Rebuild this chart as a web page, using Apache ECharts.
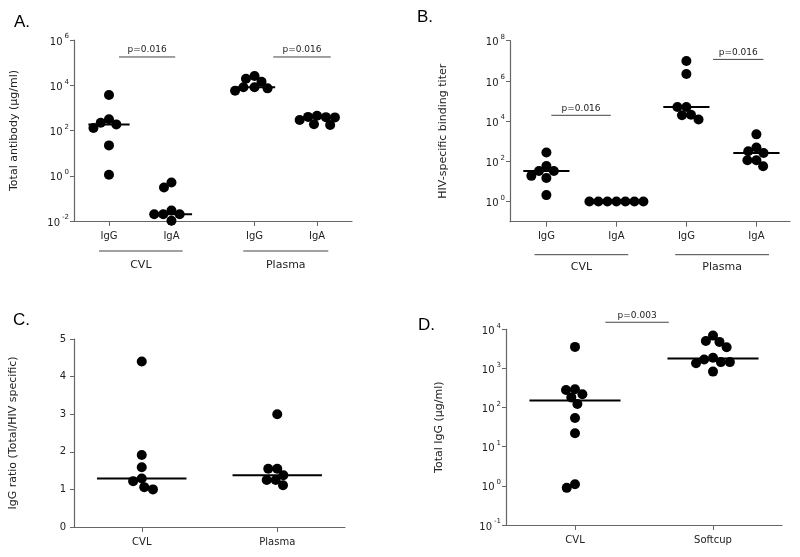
<!DOCTYPE html>
<html><head><meta charset="utf-8">
<script src="https://cdn.jsdelivr.net/npm/echarts@6/dist/echarts.min.js"></script>
<style>html,body{margin:0;padding:0;background:#fff}#c{width:800px;height:557px}</style>
</head><body><div id="c"></div>
<script>
// ---------- DATA ----------
const A_categories = ['IgG', 'IgA', 'IgG', 'IgA'];
const A_groupNames = ['CVL', 'Plasma'];
const A_cvl_IgG = [3700, 220, 128, 186, 316, 22, 1.1];
const A_cvl_IgA = [0.5, 0.3, 0.029, 0.02, 0.02, 0.02, 0.0103];
const A_plasma_IgG = [14400, 25700, 19500, 8100, 5750, 7300, 8100];
const A_plasma_IgA = [450, 400, 290, 174, 190, 380, 390];
const A_pvalues = ['p=0.016', 'p=0.016'];
const A_yTickExponents = [-2, 0, 2, 4, 6];

const B_categories = ['IgG', 'IgA', 'IgG', 'IgA'];
const B_groupNames = ['CVL', 'Plasma'];
const B_cvl_IgG = [275, 33, 59, 33, 19, 15, 2.1];
const B_cvl_IgA = [1, 1, 1, 1, 1, 1, 1];
const B_plasma_IgG = [9.8e6, 2.2e6, 51000, 51000, 21000, 19700, 12000];
const B_plasma_IgA = [2200, 316, 490, 263, 113, 113, 57];
const B_pvalues = ['p=0.016', 'p=0.016'];
const B_yTickExponents = [0, 2, 4, 6, 8];

const C_categories = ['CVL', 'Plasma'];
const C_cvl = [4.40, 1.915, 1.59, 1.29, 1.22, 1.06, 1.0];
const C_plasma = [3.0, 1.55, 1.55, 1.375, 1.25, 1.25, 1.11];
const C_yTicks = [0, 1, 2, 3, 4, 5];

const D_categories = ['CVL', 'Softcup'];
const D_cvl = [3550, 282, 295, 182, 218, 123, 54, 22, 0.89, 1.1];
const D_softcup = [5000, 3470, 4770, 6900, 1450, 1870, 1350, 1700, 1450, 830];
const D_pvalues = ['p=0.003'];
const D_yTickExponents = [-1, 0, 1, 2, 3, 4];

// ---------- LAYOUT / STYLE ----------
const FONT = '"DejaVu Sans", "Liberation Sans", Arial, sans-serif';
const AXIS = '#666';
const TXT = '#222';
const DOT = 10, SWARM_D = 9, HALF = 0.33;

const panels = [
  { letter: 'A.', letterPos: [14, 24], grid: { left: 74, top: 40, width: 278, height: 181 },
    xMin: 0.44, xMax: 4.89, pos: [1, 2, 3.33, 4.33], cats: A_categories,
    yMin: -2, yMax: 6, ticks: A_yTickExponents, log: true,
    name: 'Total antibody (µg/ml)', nameGap: 54,
    groups: [A_cvl_IgG, A_cvl_IgA, A_plasma_IgG, A_plasma_IgA],
    brackets: [{ x: [1.16, 2.06], y: 5.25, text: A_pvalues[0] }, { x: [3.63, 4.55], y: 5.25, text: A_pvalues[1] }],
    groupLines: [{ x: [0.84, 2.18], text: A_groupNames[0] }, { x: [3.15, 4.51], text: A_groupNames[1] }],
    glOff: 30, glText: 44 },
  { letter: 'B.', letterPos: [417, 19], grid: { left: 510, top: 40.7, width: 280, height: 181 },
    xMin: 0.48, xMax: 4.48, pos: [1, 2, 3, 4], cats: B_categories,
    yMin: -1, yMax: 8, ticks: B_yTickExponents, log: true,
    name: 'HIV-specific binding titer', nameGap: 61,
    groups: [B_cvl_IgG, B_cvl_IgA, B_plasma_IgG, B_plasma_IgA],
    brackets: [{ x: [1.07, 1.92], y: 4.29, text: B_pvalues[0] }, { x: [3.38, 4.10], y: 7.07, text: B_pvalues[1] }],
    groupLines: [{ x: [0.83, 2.17], text: B_groupNames[0] }, { x: [2.84, 4.18], text: B_groupNames[1] }],
    glOff: 33, glText: 45 },
  { letter: 'C.', letterPos: [13, 322], grid: { left: 74, top: 339, width: 271, height: 188 },
    xMin: 0.5, xMax: 2.5, pos: [1, 2], cats: C_categories,
    yMin: 0, yMax: 5, ticks: C_yTicks, log: false,
    name: 'IgG ratio (Total/HIV specific)', nameGap: 55,
    groups: [C_cvl, C_plasma], brackets: [], groupLines: [] },
  { letter: 'D.', letterPos: [418, 327], grid: { left: 506, top: 329.3, width: 276, height: 195.7 },
    xMin: 0.5, xMax: 2.5, pos: [1, 2], cats: D_categories,
    yMin: -1, yMax: 4, ticks: D_yTickExponents, log: true,
    name: 'Total IgG (µg/ml)', nameGap: 61,
    groups: [D_cvl, D_softcup],
    brackets: [{ x: [1.22, 1.68], y: 4.18, text: D_pvalues[0] }], groupLines: [] }
];

function median(a) {
  const s = a.slice().sort((x, y) => x - y), n = s.length;
  return n % 2 ? s[(n - 1) / 2] : (s[n / 2 - 1] + s[n / 2]) / 2;
}
const tf = (p, v) => p.log ? Math.log10(v) : v;

const chart = echarts.init(document.getElementById('c'));

function buildOption(offsets) {
  const grid = [], xAxis = [], yAxis = [], series = [];
  panels.forEach((p, i) => {
    grid.push(Object.assign({ containLabel: false }, p.grid));
    xAxis.push({
      type: 'value', gridIndex: i, min: p.xMin, max: p.xMax,
      axisLine: { show: true, onZero: false, lineStyle: { color: AXIS, width: 1.2 } },
      splitLine: { show: false },
      axisTick: { show: true, customValues: p.pos, length: 5, lineStyle: { color: AXIS, width: 1 } },
      axisLabel: { show: true, customValues: p.pos, margin: 10, fontSize: 10, fontFamily: FONT, color: TXT,
        formatter: v => { let k = 0, best = 1e9; p.pos.forEach((q, j) => { if (Math.abs(q - v) < best) { best = Math.abs(q - v); k = j; } }); return p.cats[k]; } }
    });
    yAxis.push({
      type: 'value', gridIndex: i, min: p.yMin, max: p.yMax,
      axisLine: { show: true, onZero: false, lineStyle: { color: AXIS, width: 1.2 } },
      splitLine: { show: false },
      axisTick: { show: true, customValues: p.ticks, length: 4, lineStyle: { color: AXIS, width: 1 } },
      axisLabel: { show: true, customValues: p.ticks, margin: p.log ? 5 : 8, fontSize: 10, fontFamily: FONT, color: TXT,
        formatter: v => p.log ? '{b|10}{s|' + v + '}' : String(v),
        rich: p.log ? {
          b: { fontSize: 10, fontFamily: FONT, color: TXT, lineHeight: 14, verticalAlign: 'bottom' },
          s: { fontSize: 7, fontFamily: FONT, color: TXT, lineHeight: 10, verticalAlign: 'top', padding: [0, 0, 0, 2] }
        } : undefined },
      name: p.name, nameLocation: 'middle', nameRotate: 90, nameGap: p.nameGap,
      nameTextStyle: { fontSize: 11, fontFamily: FONT, color: TXT }
    });
    const pts = [];
    p.groups.forEach((vals, g) => {
      vals.forEach((v, k) => {
        const off = offsets ? offsets[i][g][k] : 0;
        pts.push([p.pos[g] + off, tf(p, v)]);
      });
      const m = tf(p, median(vals));
      series.push({ type: 'line', xAxisIndex: i, yAxisIndex: i, data: [[p.pos[g] - HALF, m], [p.pos[g] + HALF, m]],
        symbol: 'none', lineStyle: { color: '#000', width: 2 }, z: 3, silent: true, animation: false });
    });
    series.push({ type: 'scatter', xAxisIndex: i, yAxisIndex: i, data: pts, symbol: 'circle', symbolSize: DOT,
      itemStyle: { color: '#000', opacity: 1 }, z: 2, clip: false, animation: false, silent: true });
    p.brackets.forEach(b => {
      series.push({ type: 'line', xAxisIndex: i, yAxisIndex: i, data: [[b.x[0], b.y], [b.x[1], b.y]],
        symbol: 'none', clip: false, lineStyle: { color: '#444', width: 1 }, animation: false, silent: true });
    });
  });
  return { backgroundColor: '#fff', animation: false, grid, xAxis, yAxis, series };
}

chart.setOption(buildOption(null));

// beeswarm offsets computed in pixel space via the axes' scales
function swarm(ys, d) {
  const idx = ys.map((y, i) => i).sort((a, b) => ys[a] - ys[b]);
  const placed = [], off = new Array(ys.length).fill(0);
  for (const i of idx) {
    const y = ys[i], cands = [0];
    for (const q of placed) {
      const dy = Math.abs(q.y - y);
      if (dy < d) { const dx = Math.sqrt(d * d - dy * dy); cands.push(q.x + dx, q.x - dx); }
    }
    cands.sort((a, b) => Math.abs(a) - Math.abs(b) || a - b);
    let best = 0;
    for (const c of cands) {
      if (placed.every(q => (q.x - c) ** 2 + (q.y - y) ** 2 >= d * d - 0.01)) { best = c; break; }
    }
    off[i] = best; placed.push({ x: best, y });
  }
  return off;
}

const offsets = panels.map((p, i) => {
  const f = { xAxisIndex: i, yAxisIndex: i };
  const pxPerUnit = chart.convertToPixel(f, [p.pos[0] + 1, 0])[0] - chart.convertToPixel(f, [p.pos[0], 0])[0];
  return p.groups.map((vals, g) => {
    const ys = vals.map(v => chart.convertToPixel(f, [p.pos[g], tf(p, v)])[1]);
    return swarm(ys, SWARM_D).map(o => o / pxPerUnit);
  });
});

const opt = buildOption(offsets);
const graphic = [];
panels.forEach((p, i) => {
  const f = { xAxisIndex: i, yAxisIndex: i };
  graphic.push({ type: 'text', left: p.letterPos[0], top: p.letterPos[1] - 10,
    style: { text: p.letter, font: '17px "Liberation Sans", Arial, sans-serif', fill: '#000' } });
  p.brackets.forEach(b => {
    const a = chart.convertToPixel(f, [(b.x[0] + b.x[1]) / 2, b.y]);
    graphic.push({ type: 'text', x: a[0], y: a[1] - 7,
      style: { text: b.text, font: '9px ' + FONT, fill: TXT, align: 'center', verticalAlign: 'middle' } });
  });
  const bottom = p.grid.top + p.grid.height;
  p.groupLines.forEach(gl => {
    const x1 = chart.convertToPixel(f, [gl.x[0], 0])[0], x2 = chart.convertToPixel(f, [gl.x[1], 0])[0];
    graphic.push({ type: 'line', shape: { x1, y1: bottom + p.glOff, x2, y2: bottom + p.glOff },
      style: { stroke: '#444', lineWidth: 1 } });
    graphic.push({ type: 'text', x: (x1 + x2) / 2, y: bottom + p.glText,
      style: { text: gl.text, font: '11px ' + FONT, fill: TXT, align: 'center', verticalAlign: 'middle' } });
  });
});
opt.graphic = graphic;
chart.setOption(opt);
</script>
</body></html>
